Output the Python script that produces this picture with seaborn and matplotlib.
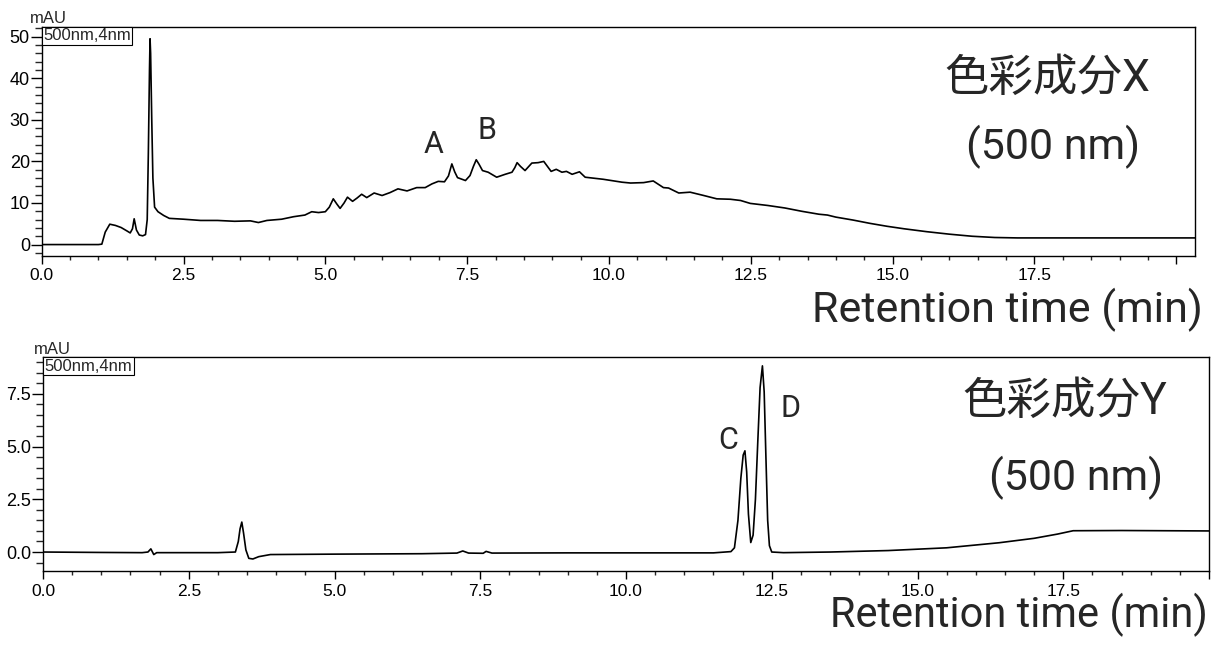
import matplotlib
matplotlib.use('Agg')
import matplotlib.pyplot as plt
import seaborn as sns
import pandas as pd
from matplotlib.ticker import MultipleLocator, FixedLocator, FixedFormatter

# ---------------- data ----------------
top_time = [
    0.0, 1.0, 1.06, 1.12, 1.2, 1.3, 1.4, 1.5, 1.56, 1.6,
    1.63, 1.67, 1.72, 1.78, 1.83, 1.86, 1.88, 1.9, 1.91, 1.92,
    1.94, 1.96, 1.99, 2.05, 2.15, 2.25, 2.5, 2.8, 3.1, 3.4,
    3.68, 3.82, 3.97, 4.23, 4.44, 4.64, 4.76, 4.88, 5.0, 5.07,
    5.14, 5.2, 5.26, 5.33, 5.39, 5.48, 5.56, 5.64, 5.73, 5.86,
    6.0, 6.14, 6.28, 6.44, 6.61, 6.76, 6.88, 6.99, 7.1, 7.17,
    7.23, 7.28, 7.33, 7.47, 7.55, 7.61, 7.66, 7.71, 7.77, 7.87,
    8.02, 8.17, 8.29, 8.34, 8.38, 8.44, 8.52, 8.64, 8.75, 8.85,
    8.98, 9.07, 9.17, 9.25, 9.35, 9.48, 9.58, 9.9, 10.23, 10.38,
    10.61, 10.78, 10.96, 11.05, 11.23, 11.43, 11.67, 11.9, 12.14, 12.32,
    12.49, 12.8, 13.1, 13.4, 13.7, 13.85, 14.0, 14.3, 14.6, 14.9,
    15.2, 15.6, 16.0, 16.4, 16.8, 17.2, 18.0, 19.0, 20.33,
]
top_mau = [
    0.0, 0.0, 0.1, 3.0, 4.9, 4.6, 4.1, 3.3, 2.8, 3.8,
    6.2, 3.5, 2.3, 2.1, 2.4, 6.0, 22.0, 42.0, 49.5, 46.0,
    30.0, 16.0, 9.0, 7.9, 7.0, 6.3, 6.1, 5.8, 5.8, 5.6,
    5.7, 5.3, 5.8, 6.1, 6.7, 7.1, 7.9, 7.7, 7.9, 9.0,
    11.0, 9.8, 8.7, 10.0, 11.4, 10.4, 11.2, 12.1, 11.3, 12.4,
    11.8, 12.5, 13.4, 12.9, 13.7, 13.7, 14.6, 15.2, 15.1, 16.5,
    19.4, 17.5, 16.1, 15.4, 16.6, 18.8, 20.4, 19.3, 17.8, 17.4,
    16.2, 16.9, 17.4, 18.5, 19.7, 18.8, 17.8, 19.6, 19.7, 20.0,
    17.6, 18.1, 17.4, 17.6, 16.9, 17.5, 16.2, 15.7, 15.0, 14.8,
    14.9, 15.3, 13.7, 13.6, 12.4, 12.6, 11.8, 11.0, 10.9, 10.6,
    9.9, 9.4, 8.8, 8.0, 7.3, 7.1, 6.6, 5.9, 5.1, 4.4,
    3.8, 3.1, 2.5, 2.0, 1.7, 1.6, 1.6, 1.6, 1.6,
]

bot_time = [
    0.0, 1.0, 1.7, 1.8, 1.85, 1.9, 1.95, 2.2, 3.0, 3.3,
    3.35, 3.38, 3.41, 3.44, 3.48, 3.53, 3.6, 3.7, 3.9, 5.0,
    6.5, 7.1, 7.2, 7.3, 7.55, 7.6, 7.7, 9.0, 10.5, 11.5,
    11.8, 11.86, 11.92, 11.97, 12.01, 12.04, 12.07, 12.10, 12.14, 12.18,
    12.22, 12.26, 12.30, 12.34, 12.37, 12.40, 12.43, 12.46, 12.5, 12.7,
    13.5, 14.5, 15.5, 16.4, 17.0, 17.4, 17.67, 18.5, 20.0,
]
bot_mau = [
    0.0, -0.02, -0.03, 0.0, 0.15, -0.12, -0.03, -0.03, -0.03, 0.0,
    0.5, 1.1, 1.42, 0.9, 0.1, -0.3, -0.33, -0.22, -0.12, -0.1,
    -0.08, -0.05, 0.05, -0.05, -0.06, 0.03, -0.05, -0.04, -0.04, -0.04,
    0.02, 0.2, 1.5, 3.5, 4.6, 4.8, 3.8, 1.8, 0.45, 0.8,
    2.5, 5.2, 7.8, 8.83, 7.6, 4.5, 1.5, 0.3, 0.0, -0.03,
    0.0, 0.07, 0.2, 0.44, 0.65, 0.85, 1.01, 1.02, 1.0,
]

x_major = [0.0, 2.5, 5.0, 7.5, 10.0, 12.5, 15.0, 17.5, 20.0]
x_labels = ["0.0", "2.5", "5.0", "7.5", "10.0", "12.5", "15.0", "17.5", ""]
top_yticks = [0, 10, 20, 30, 40, 50]
bot_yticks = [0.0, 2.5, 5.0, 7.5]

top_peaks = [("A", 6.9, 24.0), ("B", 7.85, 27.4)]
bot_peaks = [("C", 11.75, 5.27), ("D", 12.83, 6.79)]

top_title = "色彩成分X"
bot_title = "色彩成分Y"
wave_text = "(500 nm)"
xlabel_text = "Retention time (min)"
box_text = "500nm,4nm"
unit_text = "mAU"

# ---------------- style ----------------
sns.set_style("ticks")
plt.rcParams['font.family'] = ['Liberation Sans', 'DejaVu Sans']
BIG = ['Roboto', 'Noto Sans CJK JP', 'DejaVu Sans']

W, H = 1216, 650
fig = plt.figure(figsize=(W / 100, H / 100), dpi=100)


def rect(l, t, r, b):
    return [l / W, 1 - b / H, (r - l) / W, (b - t) / H]


ax1 = fig.add_axes(rect(41.7, 26.7, 1195, 256))
ax2 = fig.add_axes(rect(43, 357, 1209, 571))

df_top = pd.DataFrame({"time": top_time, "mAU": top_mau})
df_bot = pd.DataFrame({"time": bot_time, "mAU": bot_mau})
sns.lineplot(data=df_top, x="time", y="mAU", ax=ax1, color="black",
             linewidth=1.2, sort=False, estimator=None)
sns.lineplot(data=df_bot, x="time", y="mAU", ax=ax2, color="black",
             linewidth=1.2, sort=False, estimator=None)


def style(ax, xmax, ylim, yticks, ymin_step, yfmt):
    ax.set_xlim(0, xmax)
    ax.set_ylim(*ylim)
    ax.xaxis.set_major_locator(FixedLocator(x_major))
    ax.xaxis.set_major_formatter(FixedFormatter(x_labels))
    ax.xaxis.set_minor_locator(MultipleLocator(0.5))
    ax.yaxis.set_major_locator(FixedLocator(yticks))
    ax.set_yticklabels([yfmt.format(v) for v in yticks])
    ax.yaxis.set_minor_locator(MultipleLocator(ymin_step))
    ax.tick_params(axis='x', which='major', direction='out', length=6,
                   width=1, pad=3, labelsize=12.5, colors='black')
    ax.tick_params(axis='x', which='minor', direction='out', length=3, width=1)
    ax.tick_params(axis='y', which='major', direction='out', length=8,
                   width=1, pad=0.5, labelsize=13, colors='black')
    ax.tick_params(axis='y', which='minor', direction='out', length=5, width=1)
    for s in ax.spines.values():
        s.set_visible(True)
        s.set_color('black')
        s.set_linewidth(1.0)
    ax.set_xlabel("")
    ax.set_ylabel("")
    ax.annotate(box_text, xy=(0, 1), xycoords='axes fraction',
                xytext=(1.2, -1.2), textcoords='offset points',
                ha='left', va='top', fontsize=12,
                bbox=dict(boxstyle='square,pad=0.08', fc='white',
                          ec='black', lw=0.8))


style(ax1, 20.33, (-2.75, 52.4), top_yticks, 2, "{:.0f}")
style(ax2, 20.0, (-0.9, 9.25), bot_yticks, 0.5, "{:.1f}")

for lab, x, y in top_peaks:
    ax1.text(x, y, lab, ha='center', va='center', fontsize=22,
             family=BIG, fontweight='normal')
for lab, x, y in bot_peaks:
    ax2.text(x, y, lab, ha='center', va='center', fontsize=22,
             family=BIG, fontweight='normal')


def ftext(x, y, s, **kw):
    fig.text(x / W, 1 - y / H, s, **kw)


ftext(48, 23, unit_text, ha='center', va='baseline', fontsize=12)
ftext(52, 354, unit_text, ha='center', va='baseline', fontsize=12)

ftext(1150, 79, top_title, ha='right', va='center', fontsize=32,
      family=BIG, fontweight='normal')
ftext(1140, 147, wave_text, ha='right', va='center', fontsize=31,
      family=BIG, fontweight='normal')
ftext(1167, 402, bot_title, ha='right', va='center', fontsize=32,
      family=BIG, fontweight='normal')
ftext(1163, 478, wave_text, ha='right', va='center', fontsize=31,
      family=BIG, fontweight='normal')

ftext(1203, 322, xlabel_text, ha='right', va='baseline', fontsize=31,
      family=BIG, fontweight='normal')
ftext(1208, 627, xlabel_text, ha='right', va='baseline', fontsize=30,
      family=BIG, fontweight='normal')

fig.savefig("out.png", dpi=100)
